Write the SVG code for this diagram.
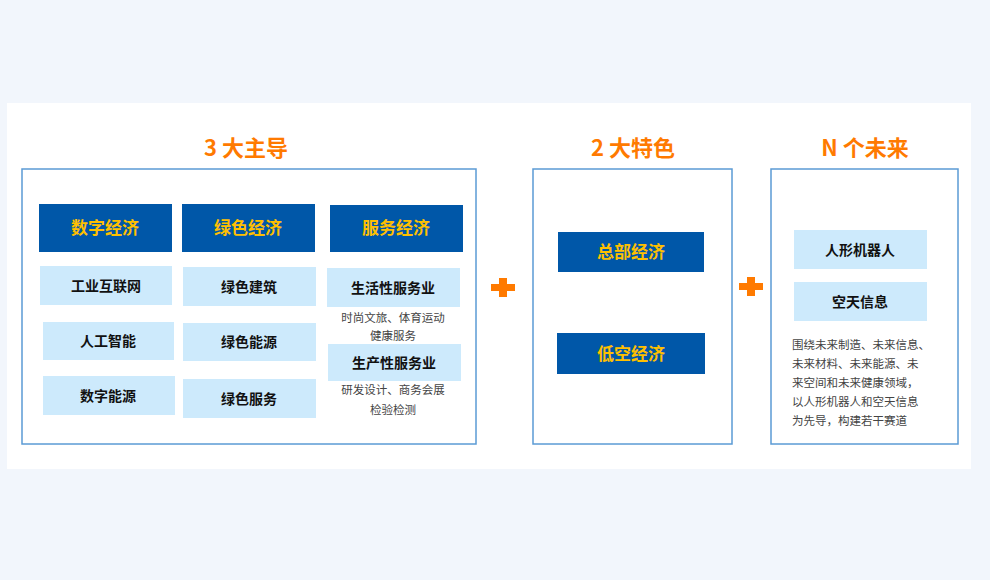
<svg xmlns="http://www.w3.org/2000/svg" width="990" height="580" viewBox="0 0 990 580">
<style>
text{font-family:"Noto Sans CJK SC","Liberation Sans",sans-serif;text-anchor:middle}
.frame{fill:#fff;stroke:#5b9bd5;stroke-width:1.5}
.hd{fill:#0057a8}
.hdt{fill:#ffc000;font-size:17px;font-weight:bold}
.lt{fill:#cdeafc}
.ltt{fill:#111;font-size:14px;font-weight:bold}
.ttl{fill:#ff7a00;font-size:22px;font-weight:bold}
.sm{fill:#444;font-size:11.5px}
.plus{fill:#ff7a00}
</style>
<rect width="990" height="580" fill="#f2f6fc"/>
<rect x="7" y="103" width="964" height="366" fill="#fff"/>
<text class="ttl" x="246" y="156">3 大主导</text>
<text class="ttl" x="633" y="156">2 大特色</text>
<text class="ttl" x="865" y="156">N 个未来</text>
<rect class="frame" x="22" y="169" width="454" height="275"/>
<rect class="frame" x="533" y="169" width="199" height="275"/>
<rect class="frame" x="771" y="169" width="187" height="275"/>
<g id="h1"><rect class="hd" x="39" y="204" width="133" height="48"/><text class="hdt" x="105" y="234">数字经济</text></g>
<g id="h2"><rect class="hd" x="182" y="204" width="133" height="48"/><text class="hdt" x="248" y="234">绿色经济</text></g>
<g id="h3"><rect class="hd" x="330" y="205" width="133" height="47"/><text class="hdt" x="396" y="234">服务经济</text></g>
<g id="a1"><rect class="lt" x="40" y="266" width="132" height="39"/><text class="ltt" x="106" y="291">工业互联网</text></g>
<g id="a2"><rect class="lt" x="43" y="322" width="131" height="38"/><text class="ltt" x="108" y="346">人工智能</text></g>
<g id="a3"><rect class="lt" x="43" y="376" width="132" height="39"/><text class="ltt" x="108" y="401">数字能源</text></g>
<g id="b1"><rect class="lt" x="183" y="267" width="133" height="39"/><text class="ltt" x="249" y="292">绿色建筑</text></g>
<g id="b2"><rect class="lt" x="183" y="323" width="133" height="38"/><text class="ltt" x="249" y="347">绿色能源</text></g>
<g id="b3"><rect class="lt" x="183" y="379" width="133" height="39"/><text class="ltt" x="249" y="404">绿色服务</text></g>
<g id="c1"><rect class="lt" x="327" y="268" width="133" height="39"/><text class="ltt" x="393" y="293">生活性服务业</text>
<text class="sm" x="393" y="322">时尚文旅、体育运动</text><text class="sm" x="393" y="340">健康服务</text></g>
<g id="c2"><rect class="lt" x="328" y="344" width="133" height="37"/><text class="ltt" x="394" y="368">生产性服务业</text>
<text class="sm" x="393" y="394">研发设计、商务会展</text><text class="sm" x="393" y="414">检验检测</text></g>
<g id="m1"><rect class="hd" x="558" y="232" width="146" height="40"/><text class="hdt" x="631" y="258">总部经济</text></g>
<g id="m2"><rect class="hd" x="557" y="333" width="148" height="41"/><text class="hdt" x="631" y="360">低空经济</text></g>
<g id="r1"><rect class="lt" x="794" y="230" width="133" height="39"/><text class="ltt" x="860" y="255">人形机器人</text></g>
<g id="r2"><rect class="lt" x="794" y="282" width="133" height="39"/><text class="ltt" x="860" y="307">空天信息</text></g>
<g id="rt" class="sm" style="text-anchor:start">
<text x="792" y="349" style="text-anchor:start">围绕未来制造、未来信息、</text>
<text x="792" y="368" style="text-anchor:start">未来材料、未来能源、未</text>
<text x="792" y="387" style="text-anchor:start">来空间和未来健康领域，</text>
<text x="792" y="406" style="text-anchor:start">以人形机器人和空天信息</text>
<text x="792" y="425" style="text-anchor:start">为先导，构建若干赛道</text>
</g>
<g id="connectors">
<path class="plus" d="M499 278h8v6h8v7h-8v6h-8v-6h-8v-7h8z"/>
<path class="plus" d="M747 277h8v6h8v7h-8v6h-8v-6h-8v-7h8z"/>
</g>
</svg>
